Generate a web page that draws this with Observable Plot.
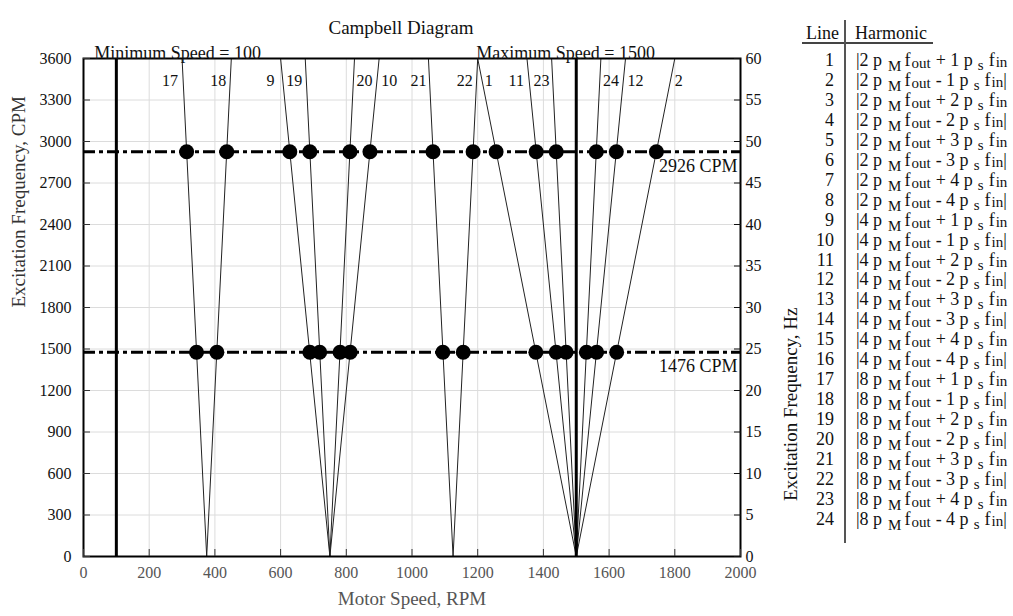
<!DOCTYPE html>
<html><head><meta charset="utf-8">
<script src="https://cdn.jsdelivr.net/npm/d3@7"></script>
<script src="https://cdn.jsdelivr.net/npm/@observablehq/plot@0.6"></script>
<style>
body{margin:0;background:#fff;font-family:"Liberation Serif","Times New Roman",serif;color:#111;}
#wrap{position:relative;width:1013px;height:616px;overflow:hidden;}
#chart{position:absolute;left:0;top:0;}
.t{position:absolute;white-space:nowrap;font-size:18px;line-height:20px;}
.num{text-align:right;width:40px;}
.sub{position:relative;font-size:15px;}
</style></head><body><div id="wrap"><div id="chart"></div><div id="table"></div></div>
<script>
// ---------- data ----------
const lineIds       = [17, 18, 9, 19, 20, 10, 21, 22, 1, 11, 23, 24, 12, 2];
const lineStartRPM  = [375, 375, 750, 750, 750, 750, 1125, 1125, 1500, 1500, 1500, 1500, 1500, 1500]; // at 0 CPM
const lineEndRPM    = [300, 450, 600, 675, 825, 900, 1050, 1200, 1200, 1350, 1425, 1575, 1650, 1800]; // at 3600 CPM
const highFreqCPM = 2926;
const lowFreqCPM  = 1476;
const highCrossRPM = [314, 436, 628, 689, 811, 872, 1064, 1186, 1256, 1378, 1439, 1561, 1622, 1744];
const lowCrossRPM  = [344, 406, 689, 719, 781, 812, 1094, 1156, 1377, 1439, 1469, 1531, 1562, 1623];
const minSpeed = 100;
const maxSpeed = 1500;
const xTicks  = [0, 200, 400, 600, 800, 1000, 1200, 1400, 1600, 1800, 2000];
const yTicks  = [0, 300, 600, 900, 1200, 1500, 1800, 2100, 2400, 2700, 3000, 3300, 3600];
const hzTicks = [0, 5, 10, 15, 20, 25, 30, 35, 40, 45, 50, 55, 60];
const tableLine  = [1,2,3,4,5,6,7,8,9,10,11,12,13,14,15,16,17,18,19,20,21,22,23,24];
const tableA     = [2,2,2,2,2,2,2,2,4,4,4,4,4,4,4,4,8,8,8,8,8,8,8,8];
const tableSign  = ["+","-","+","-","+","-","+","-","+","-","+","-","+","-","+","-","+","-","+","-","+","-","+","-"];
const tableB     = [1,1,2,2,3,3,4,4,1,1,2,2,3,3,4,4,1,1,2,2,3,3,4,4];

// ---------- label offsets (px) ----------
const labelDx = {17:-4, 18:-5, 9:-6, 19:-3, 21:-2, 22:-5, 11:-3, 23:-2, 20:2, 10:2, 1:7, 24:2, 12:2, 2:0};

const segs = lineIds.map((id, i) => ({id, x1: lineStartRPM[i], y1: 0, x2: lineEndRPM[i], y2: 3600}));
const dots = [
  ...highCrossRPM.map(x => ({x, y: highFreqCPM})),
  ...lowCrossRPM.map(x => ({x, y: lowFreqCPM}))
];
const labelMarks = segs.map(s => {
  const dx = labelDx[s.id];
  return Plot.text([s], {x: "x2", y: "y2", text: d => String(d.id), dx,
    dy: 22, textAnchor: dx > 0 || s.id === 2 ? "start" : "end", fontSize: 16});
});

const font = "'Liberation Serif', 'Times New Roman', serif";
const chart = Plot.plot({
  width: 800, height: 616,
  marginLeft: 83, marginRight: 60, marginTop: 58, marginBottom: 60,
  style: {fontFamily: font, fontSize: "16px", background: "transparent", color: "#111", overflow: "visible"},
  x: {domain: [0, 2000]},
  y: {domain: [0, 3600]},
  marks: [
    Plot.gridX(xTicks, {stroke: "#dcdcdc", strokeOpacity: 1}),
    Plot.gridY(yTicks, {stroke: "#dcdcdc", strokeOpacity: 1}),
    Plot.link(segs, {x1: "x1", y1: "y1", x2: "x2", y2: "y2", stroke: "#222", strokeWidth: 1}),
    Plot.ruleY([highFreqCPM, lowFreqCPM], {stroke: "black", strokeWidth: 3, strokeDasharray: "12,4,4,4"}),
    Plot.ruleX([minSpeed, maxSpeed], {stroke: "black", strokeWidth: 3}),
    Plot.dot(dots, {x: "x", y: "y", r: 7.5, fill: "black", stroke: "none"}),
    Plot.frame({stroke: "black", strokeWidth: 2}),
    // inward ticks
    Plot.axisX(xTicks, {anchor: "bottom", tickSize: 7, dy: -7, tickFormat: () => "", label: null, stroke: "#333"}),
    Plot.axisY(yTicks, {anchor: "left", tickSize: 7, dx: 7, tickFormat: () => "", label: null, stroke: "#333"}),
    Plot.axisY(hzTicks.map(h => h * 60), {anchor: "right", tickSize: 7, dx: -7, tickFormat: () => "", label: null, stroke: "#111"}),
    // tick labels
    Plot.axisX(xTicks, {anchor: "bottom", tickSize: 0, tickPadding: 10, fontSize: 16, fill: "#555", label: null, tickFormat: d => String(d)}),
    Plot.axisY(yTicks, {anchor: "left", tickSize: 0, tickPadding: 12, fontSize: 16, fill: "#111", label: null, tickFormat: d => String(d)}),
    Plot.axisY(hzTicks.map(h => h * 60), {anchor: "right", tickSize: 0, tickPadding: 5, fontSize: 16, fill: "#111", label: null, tickFormat: d => String(d / 60)}),
    // annotations
    ...labelMarks,
    Plot.text([highFreqCPM, lowFreqCPM], {x: 2000, y: d => d, text: d => `${d} CPM`, textAnchor: "end", dx: -3, dy: 14, fontSize: 18}),
    Plot.text([minSpeed], {x: d => d, y: 3600, text: d => `Minimum Speed = ${d}`, textAnchor: "start", lineAnchor: "bottom", dx: -22, fontSize: 18}),
    Plot.text([maxSpeed], {x: d => d, y: 3600, text: d => `Maximum Speed = ${d}`, textAnchor: "start", lineAnchor: "bottom", dx: -100, fontSize: 18}),
    Plot.text(["Campbell Diagram"], {frameAnchor: "top", dx: -11, dy: -38, fontSize: 19}),
    Plot.text(["Motor Speed, RPM"], {frameAnchor: "bottom", dy: 48, fontSize: 19, fill: "#555"}),
    Plot.text(["Excitation Frequency, CPM"], {frameAnchor: "left", dx: -65, rotate: -90, fontSize: 19, fill: "#333"}),
    Plot.text(["Excitation Frequency, Hz"], {frameAnchor: "right", dx: 50, rotate: -90, fontSize: 19, fill: "#111"})
  ]
});
document.getElementById("chart").appendChild(chart);

// ---------- table ----------
const tbl = document.getElementById("table");
function add(html, style, cls = "t") {
  const d = document.createElement("div");
  d.className = cls;
  d.innerHTML = html;
  Object.assign(d.style, style);
  tbl.appendChild(d);
  return d;
}
add("Line", {left: "806px", top: "23px"});
add("Harmonic", {left: "855px", top: "23px"});
add("", {left: "802px", top: "42px", width: "131px", height: "1.5px", background: "#444"});
add("", {left: "844px", top: "20px", width: "1.5px", height: "523px", background: "#555"});
tableLine.forEach((n, i) => {
  const cy = 60 + i * 19.95;
  add(String(n), {left: "794px", top: (cy - 10) + "px"}, "t num");
  const close = i % 2 === 1 ? "|" : "";
  const html = `|${tableA[i]} p<span class="sub" style="top:5px;margin-left:6px">M</span>` +
    `<span style="margin-left:3px">f</span><span class="sub" style="top:2px;margin-left:1px">out</span>` +
    `<span style="margin-left:5px">${tableSign[i]} ${tableB[i]} p</span><span class="sub" style="top:4px;margin-left:5px">s</span>` +
    `<span style="margin-left:5px">f</span><span class="sub" style="top:1px;margin-left:1px">in</span>${close}`;
  add(html, {left: "856px", top: (cy - 10) + "px"});
});
</script>
</body></html>
